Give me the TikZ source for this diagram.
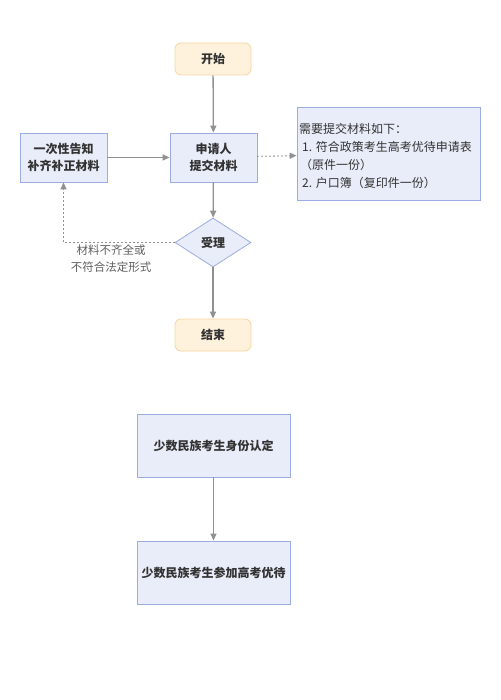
\documentclass[tikz,border=0pt]{standalone}
\usepackage{fontspec}
\setmainfont{Noto Sans CJK SC}
\usetikzlibrary{arrows.meta,shapes.geometric}
\definecolor{boxfill}{RGB}{233,237,249}
\definecolor{boxline}{RGB}{156,172,222}
\definecolor{tfill}{RGB}{255,242,221}
\definecolor{tline}{RGB}{247,214,162}
\definecolor{arr}{RGB}{145,145,145}
\definecolor{txt}{RGB}{50,50,50}
\definecolor{lbltxt}{RGB}{95,95,95}
\tikzset{
  term/.style={draw=tline,fill=tfill,rounded corners=6pt,minimum width=76pt,minimum height=32pt,font=\fontsize{12}{14}\selectfont\bfseries,text=txt,line width=0.8pt},
  proc/.style={draw=boxline,fill=boxfill,minimum width=87pt,minimum height=49pt,align=center,inner sep=1pt,font=\fontsize{12}{17.5}\selectfont\bfseries,text=txt,line width=0.8pt},
  bigproc/.style={draw=boxline,fill=boxfill,minimum width=153pt,minimum height=63pt,align=center,inner sep=1pt,font=\fontsize{12}{15}\selectfont\bfseries,text=txt,line width=0.8pt},
  dec/.style={draw=boxline,fill=boxfill,diamond,aspect=1.55,minimum width=76pt,minimum height=49pt,inner sep=0pt,font=\fontsize{12}{14}\selectfont\bfseries,text=txt,line width=0.8pt},
  notebox/.style={draw=boxline,fill=boxfill,line width=0.8pt,minimum width=183pt,minimum height=93pt,inner sep=0pt},
  conn/.style={draw=arr,line width=1.3pt,-{Triangle[length=7pt,width=6pt]}},
  dconn/.style={draw=arr,line width=1.3pt,dash pattern=on 1.3pt off 2.7pt,-{Triangle[length=7pt,width=6pt]}},
}
\begin{document}
\begin{tikzpicture}[x=1pt,y=-1pt]
\useasboundingbox (0,0) rectangle (500,700);
\fill[white] (0,0) rectangle (500,700);
\node[term] (start) at (213,59) {开始};
\node[proc] (apply) at (213.5,157.5) {申请人\\提交材料};
\node[proc] (notify) at (63.5,157.5) {一次性告知\\补齐补正材料};
\node[notebox] (note) at (388.5,153.5) {};
\node[anchor=west,align=left,inner sep=0pt,text=txt,font=\fontsize{12}{18}\selectfont] (notetext) at (299,155.5) {需要提交材料如下：\\\hspace*{3pt}1. 符合政策考生高考优待申请表\\\hspace*{1pt}（原件一份）\\\hspace*{3pt}2. 户口簿（复印件一份）};
\node[dec] (accept) at (213,242.5) {受理};
\node[term] (end) at (213,335) {结束};
\node[bigproc] (ident) at (213.5,445.5) {少数民族考生身份认定};
\node[bigproc] (pref) at (213.5,572.5) {少数民族考生参加高考优待};
\coordinate (corner) at (63.5,242.5);
\node[text=lbltxt,align=center,inner sep=0pt,font=\fontsize{11.5}{17}\selectfont] (lbl) at (111,258.5) {材料不齐全或\\不符合法定形式};
\draw[conn] (start) -- (apply);
\draw[conn] (notify) -- (apply);
\draw[dconn] (apply) -- (note);
\draw[conn] (apply) -- (accept);
\draw[dconn] (accept.west) -- (corner) -- (notify.south);
\draw[conn] (accept) -- (end);
\draw[conn] (ident) -- (pref);
\end{tikzpicture}
\end{document}
